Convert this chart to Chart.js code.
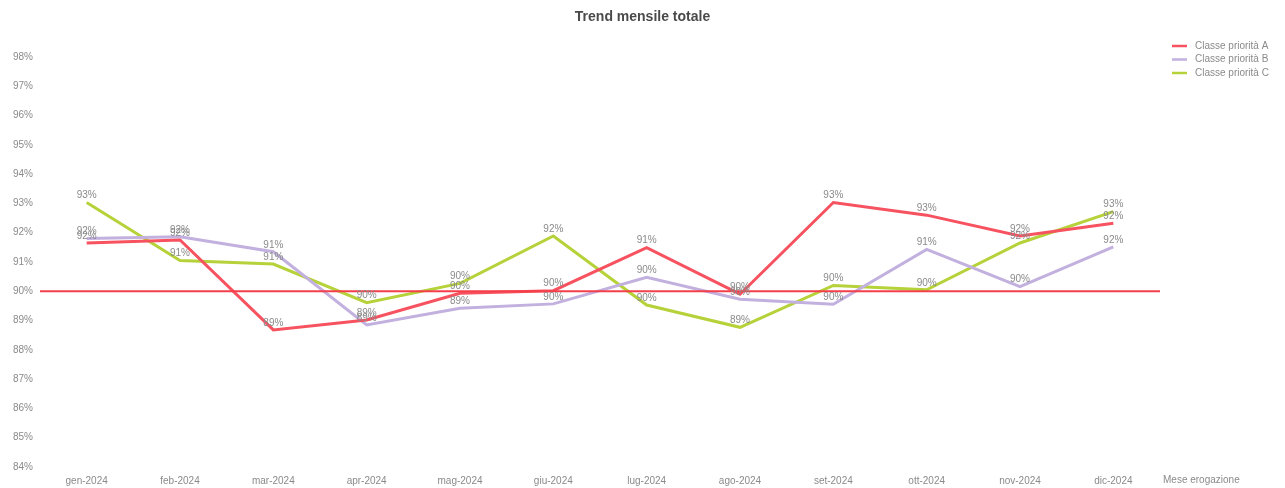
<!DOCTYPE html>
<html lang="it">
<head>
<meta charset="utf-8">
<title>Trend mensile totale</title>
<script src="https://cdn.jsdelivr.net/npm/chart.js@4.4.1/dist/chart.umd.min.js"></script>
<style>
  html, body { margin: 0; padding: 0; background: #fff; }
  #wrap { width: 1285px; height: 488px; position: relative; }
</style>
</head>
<body>
<div id="wrap"><canvas id="chartTrend"></canvas></div>
<script>
// ------------------------------------------------------------
//  Dati: trend mensile per classe di priorità (%)
// ------------------------------------------------------------
const MESI = ['gen-2024', 'feb-2024', 'mar-2024', 'apr-2024', 'mag-2024', 'giu-2024',
              'lug-2024', 'ago-2024', 'set-2024', 'ott-2024', 'nov-2024', 'dic-2024'];

const CLASSE_A = [91.65, 91.75, 88.68, 89.02, 89.93, 90.02, 91.49, 89.9, 93.03, 92.6, 91.89, 92.32];
const CLASSE_B = [91.8, 91.86, 91.35, 88.85, 89.42, 89.57, 90.48, 89.73, 89.56, 91.43, 90.16, 91.52];
const CLASSE_C = [93.03, 91.05, 90.93, 89.61, 90.27, 91.89, 89.53, 88.77, 90.2, 90.05, 91.65, 92.72];

const SOGLIA = 90;
const Y_MIN = 84;
const Y_MAX = 98;

const TITOLO = 'Trend mensile totale';
const TITOLO_ASSE_X = 'Mese erogazione';

// colori
const ROSSO   = '#f7525f';
const LILLA   = '#c2b0df';
const VERDE   = '#b6d23a';
const SOGLIA_COL = '#f43f4a';
const GRIGIO  = '#8a8a8a';
const FONT    = "'Liberation Sans', Arial, sans-serif";

// ------------------------------------------------------------
//  Plugin: linea soglia 90%
// ------------------------------------------------------------
const sogliaPlugin = {
  id: 'soglia',
  afterDatasetsDraw(chart) {
    const { ctx, chartArea, scales } = chart;
    const y = scales.y.getPixelForValue(SOGLIA);
    ctx.save();
    ctx.strokeStyle = SOGLIA_COL;
    ctx.lineWidth = 2;
    ctx.beginPath();
    ctx.moveTo(chartArea.left, y);
    ctx.lineTo(chartArea.right, y);
    ctx.stroke();
    ctx.restore();
  }
};

// ------------------------------------------------------------
//  Plugin: etichette valori sopra i punti
// ------------------------------------------------------------
const etichettePlugin = {
  id: 'etichette',
  afterDraw(chart) {
    const { ctx } = chart;
    ctx.save();
    ctx.font = '10px ' + FONT;
    ctx.fillStyle = GRIGIO;
    ctx.textAlign = 'center';
    ctx.textBaseline = 'bottom';
    chart.data.datasets.forEach((ds, i) => {
      const meta = chart.getDatasetMeta(i);
      meta.data.forEach((pt, j) => {
        ctx.fillText(Math.round(ds.data[j]) + '%', pt.x, pt.y - 2);
      });
    });
    ctx.restore();
  }
};

// ------------------------------------------------------------
//  Plugin: titolo centrato, legenda in alto a destra, titolo asse x
// ------------------------------------------------------------
const cornicePlugin = {
  id: 'cornice',
  afterDraw(chart) {
    const { ctx, chartArea, width } = chart;
    ctx.save();

    // titolo
    ctx.font = 'bold 14px ' + FONT;
    ctx.fillStyle = '#4a4a4a';
    ctx.textAlign = 'center';
    ctx.textBaseline = 'middle';
    ctx.fillText(TITOLO, width / 2, 17);

    // legenda
    const x0 = chartArea.right + 12;
    ctx.font = '10px ' + FONT;
    ctx.textAlign = 'left';
    chart.data.datasets.forEach((ds, i) => {
      const y = 46 + i * 13.5;
      ctx.strokeStyle = ds.borderColor;
      ctx.lineWidth = 2.5;
      ctx.beginPath();
      ctx.moveTo(x0, y);
      ctx.lineTo(x0 + 15, y);
      ctx.stroke();
      ctx.fillStyle = GRIGIO;
      ctx.fillText(ds.label, x0 + 23, y);
    });

    // titolo asse x
    ctx.fillText(TITOLO_ASSE_X, chartArea.right + 3, chartArea.bottom + 13);
    ctx.restore();
  }
};

new Chart(document.getElementById('chartTrend'), {
  type: 'line',
  data: {
    labels: MESI,
    datasets: [
      { label: 'Classe priorità A', data: CLASSE_A, borderColor: ROSSO, backgroundColor: ROSSO },
      { label: 'Classe priorità B', data: CLASSE_B, borderColor: LILLA, backgroundColor: LILLA },
      { label: 'Classe priorità C', data: CLASSE_C, borderColor: VERDE, backgroundColor: VERDE }
    ]
  },
  options: {
    responsive: true,
    maintainAspectRatio: false,
    animation: false,
    elements: {
      line: { borderWidth: 3, tension: 0 },
      point: { radius: 0, hoverRadius: 0 }
    },
    layout: { padding: { top: 57, right: 125, bottom: 0, left: 0 } },
    plugins: {
      legend: { display: false },
      tooltip: { enabled: false },
      title: { display: false }
    },
    scales: {
      x: {
        offset: true,
        grid: { display: false, drawTicks: false },
        border: { display: false },
        ticks: { color: GRIGIO, font: { family: FONT, size: 10 }, padding: 8, maxRotation: 0 },
        afterFit(scale) { scale.height = 21; }
      },
      y: {
        min: Y_MIN,
        max: Y_MAX,
        grid: { display: false, drawTicks: false },
        border: { display: false },
        ticks: {
          stepSize: 1,
          color: GRIGIO,
          font: { family: FONT, size: 10 },
          padding: 7,
          callback: v => v + '%'
        },
        afterFit(scale) { scale.width = 40; }
      }
    }
  },
  plugins: [sogliaPlugin, etichettePlugin, cornicePlugin]
});
</script>
</body>
</html>
